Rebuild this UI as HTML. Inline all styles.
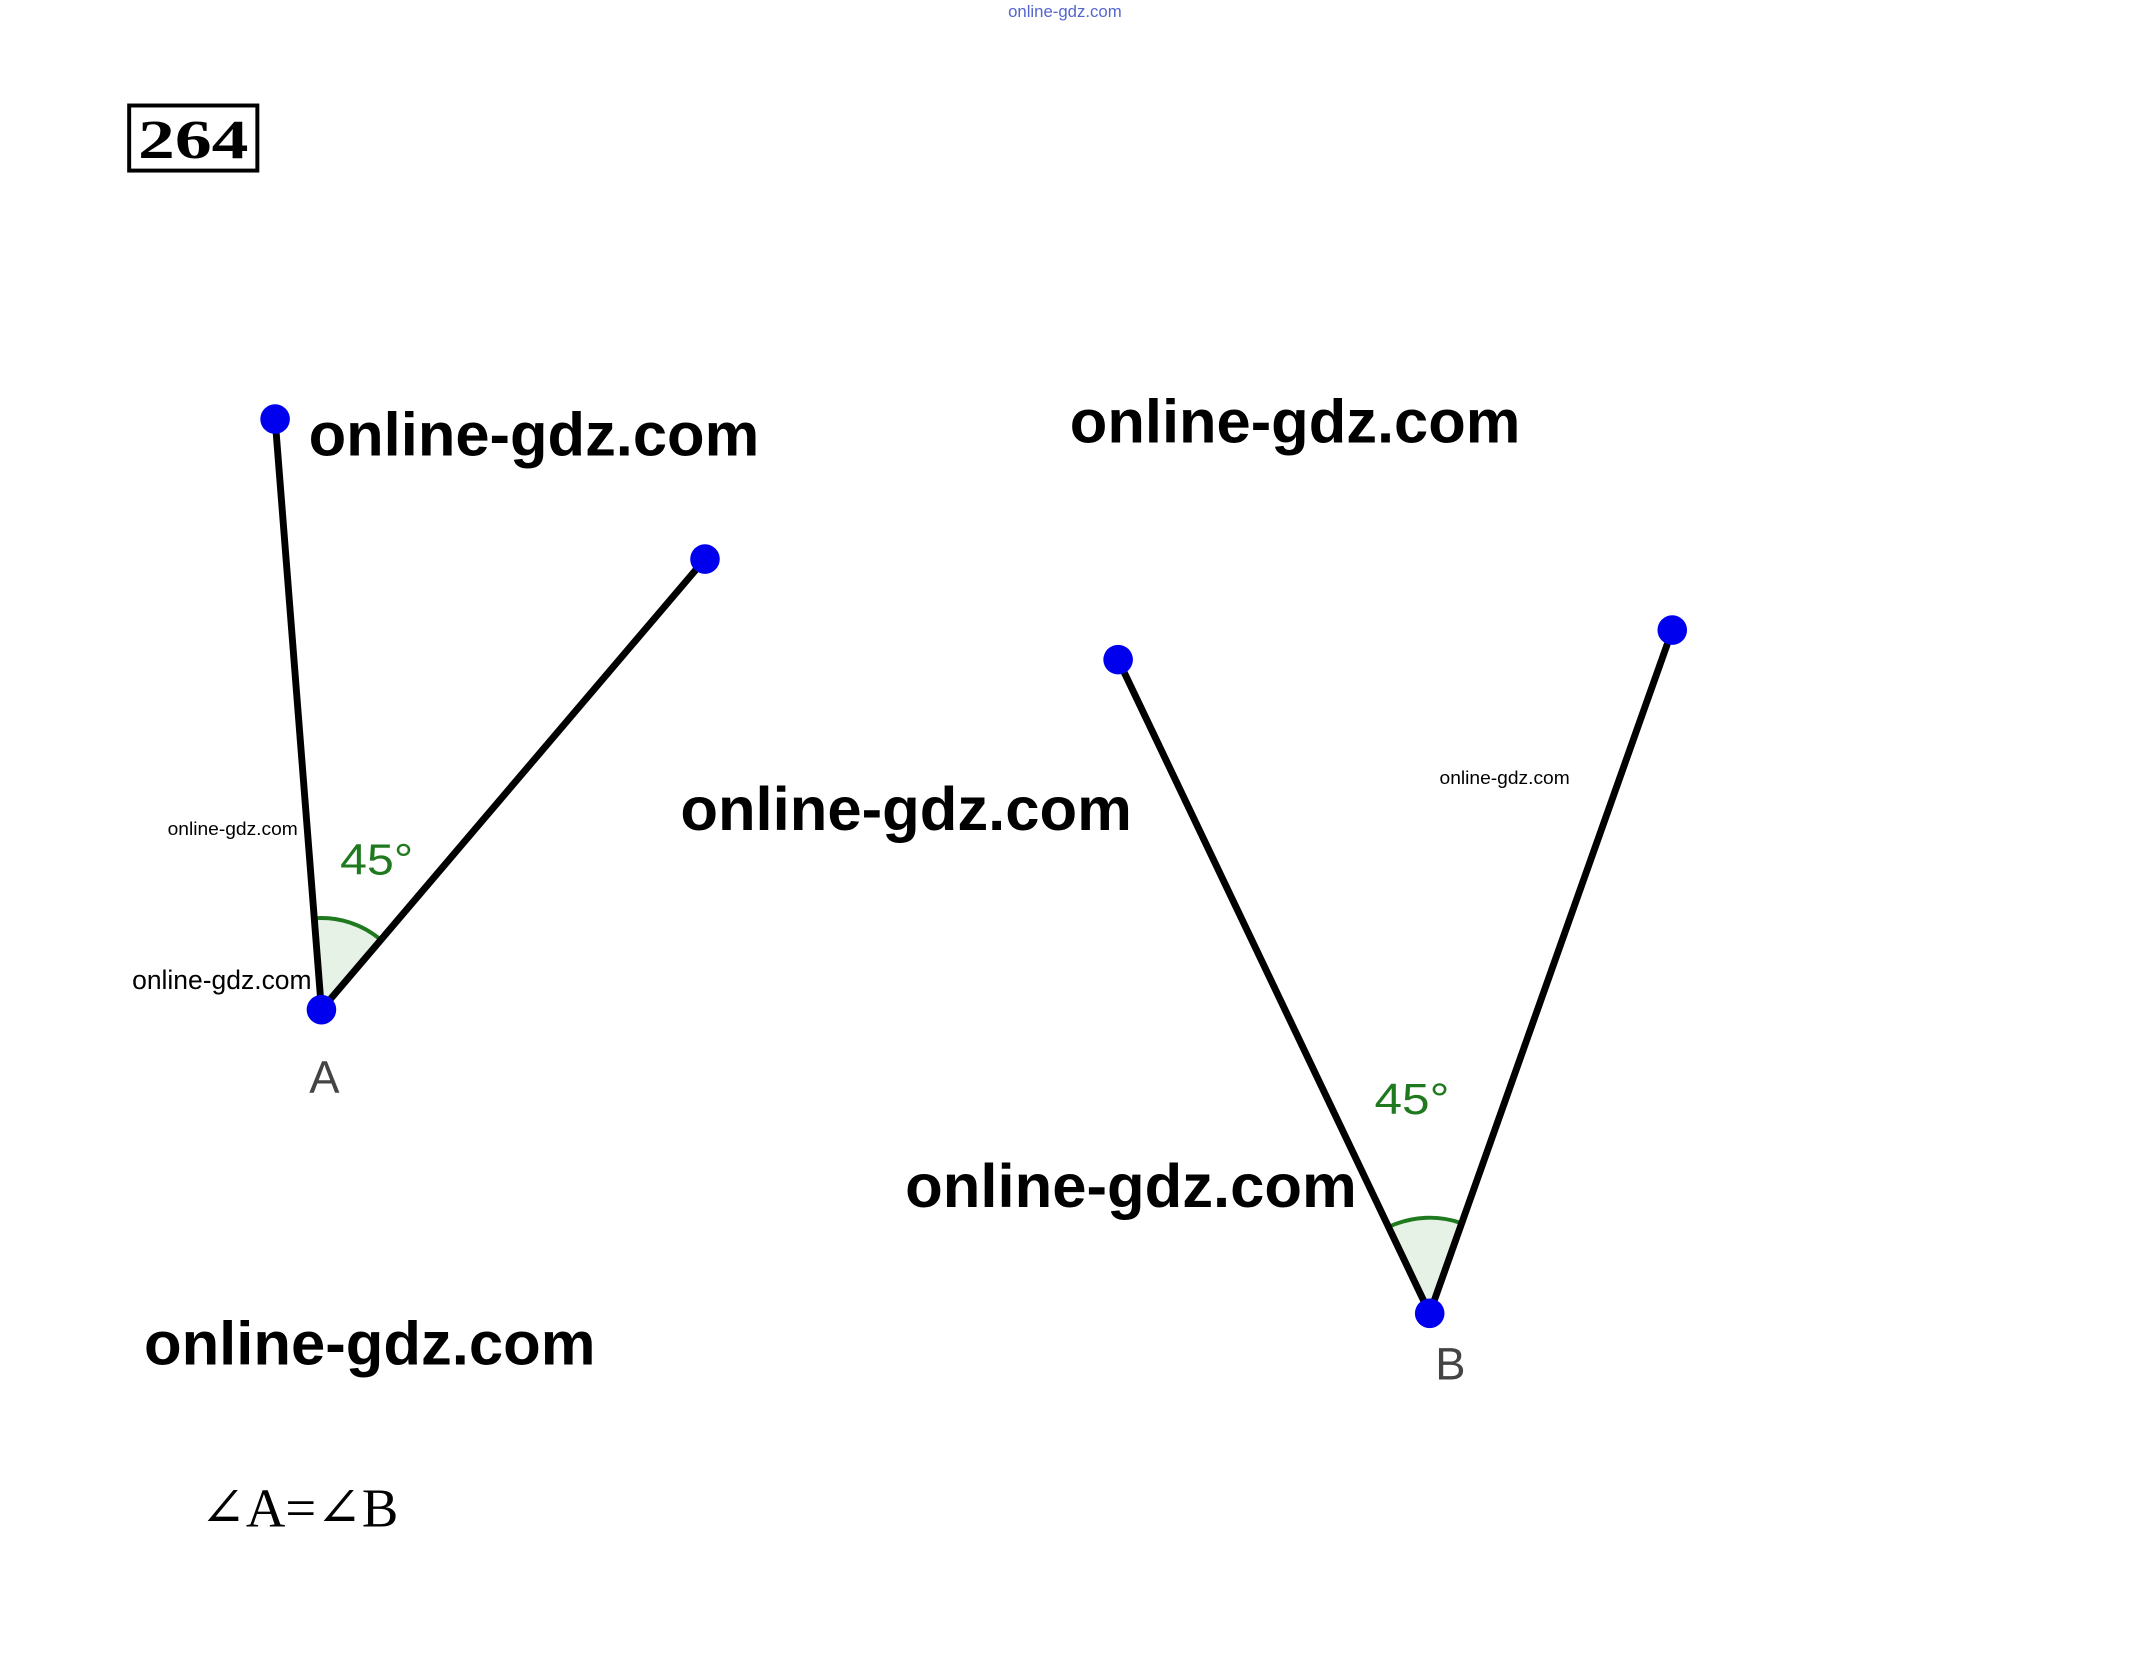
<!DOCTYPE html>
<html><head><meta charset="utf-8"><style>
html,body{margin:0;padding:0;background:#fff;}
svg{display:block;}
</style></head><body>
<svg width="2133" height="1666" viewBox="0 0 2133 1666" xmlns="http://www.w3.org/2000/svg">
<rect width="2133" height="1666" fill="#fff"/>
<g transform="scale(0.986)">
<text x="1080" y="17" font-family="Liberation Sans, sans-serif" font-size="17" fill="#5566cc" text-anchor="middle">online-gdz.com</text>
<rect x="131" y="107" width="130" height="66" fill="none" stroke="#000" stroke-width="4"/>
<text x="196" y="160" font-family="Liberation Serif, serif" font-weight="bold" font-size="56" text-anchor="middle" textLength="112" lengthAdjust="spacingAndGlyphs">264</text>

<path d="M326,1024 L318.7,931.3 A93,93 0 0 1 386.3,953.2 Z" fill="#e6f2e6" stroke="none"/>
<path d="M318.7,931.3 A93,93 0 0 1 386.3,953.2" fill="none" stroke="#1f7a1f" stroke-width="4"/>
<line x1="279" y1="425" x2="326" y2="1024" stroke="#000" stroke-width="7"/>
<line x1="326" y1="1024" x2="715" y2="567" stroke="#000" stroke-width="7"/>
<circle cx="279" cy="425" r="15" fill="#0000ee"/>
<circle cx="715" cy="567" r="15" fill="#0000ee"/>
<circle cx="326" cy="1024" r="15" fill="#0000ee"/>
<text x="345" y="887" font-family="Liberation Sans, sans-serif" font-size="44" fill="#1f7a1f" textLength="74" lengthAdjust="spacingAndGlyphs">45°</text>
<text x="329" y="1108" font-family="Liberation Sans, sans-serif" font-size="46" fill="#444" text-anchor="middle">A</text>

<path d="M1450,1332 L1408.3,1244.4 A97,97 0 0 1 1482.4,1240.6 Z" fill="#e6f2e6"/>
<path d="M1408.3,1244.4 A97,97 0 0 1 1482.4,1240.6" fill="none" stroke="#1f7a1f" stroke-width="4"/>
<line x1="1134" y1="669" x2="1450" y2="1332" stroke="#000" stroke-width="7"/>
<line x1="1450" y1="1332" x2="1696" y2="639" stroke="#000" stroke-width="7"/>
<circle cx="1134" cy="669" r="15" fill="#0000ee"/>
<circle cx="1696" cy="639" r="15" fill="#0000ee"/>
<circle cx="1450" cy="1332" r="15" fill="#0000ee"/>
<text x="1394" y="1130" font-family="Liberation Sans, sans-serif" font-size="44" fill="#1f7a1f" textLength="76" lengthAdjust="spacingAndGlyphs">45°</text>
<text x="1471" y="1399" font-family="Liberation Sans, sans-serif" font-size="46" fill="#444" text-anchor="middle">B</text>

<g font-family="Liberation Sans, sans-serif" font-weight="bold" fill="#000">
<text x="313" y="462" font-size="62" textLength="457" lengthAdjust="spacingAndGlyphs">online-gdz.com</text>
<text x="1085" y="449" font-size="62" textLength="457" lengthAdjust="spacingAndGlyphs">online-gdz.com</text>
<text x="690" y="842" font-size="62" textLength="458" lengthAdjust="spacingAndGlyphs">online-gdz.com</text>
<text x="918" y="1224" font-size="62" textLength="458" lengthAdjust="spacingAndGlyphs">online-gdz.com</text>
<text x="146" y="1384" font-size="62" textLength="458" lengthAdjust="spacingAndGlyphs">online-gdz.com</text>
</g>
<g font-family="Liberation Sans, sans-serif" fill="#000">
<text x="170" y="847" font-size="19" textLength="132" lengthAdjust="spacingAndGlyphs">online-gdz.com</text>
<text x="1460" y="795" font-size="19" textLength="132" lengthAdjust="spacingAndGlyphs">online-gdz.com</text>
<text x="134" y="1003" font-size="27" textLength="182" lengthAdjust="spacingAndGlyphs">online-gdz.com</text>
</g>
<text x="203" y="1548" font-family="Liberation Serif, DejaVu Serif, serif" font-size="56" fill="#000" textLength="201" lengthAdjust="spacingAndGlyphs">∠A=∠B</text>
</g>
</svg>
</body></html>
